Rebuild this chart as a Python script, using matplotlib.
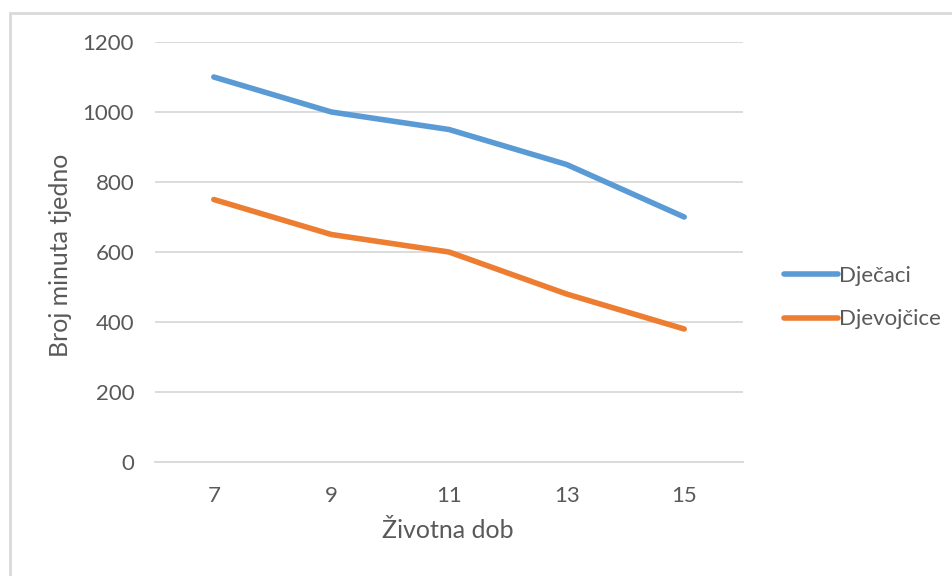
import matplotlib
matplotlib.use("Agg")
import matplotlib.pyplot as plt
from matplotlib.patches import Rectangle

ages = ["7", "9", "11", "13", "15"]
djecaci = [1100, 1000, 950, 850, 700]
djevojcice = [750, 650, 600, 480, 380]
yticks = [0, 200, 400, 600, 800, 1000, 1200]

plt.rcParams['font.family'] = ['Lato', 'DejaVu Sans']
W, H = 953, 576
fig = plt.figure(figsize=(W/100, H/100), dpi=100)

# outer chart border
fig.patches.append(Rectangle((10/W, -0.05), 1.1, 1 - 13/H + 0.05, transform=fig.transFigure,
                             fill=False, edgecolor='#D9D9D9', linewidth=2))

ax = fig.add_axes([155/W, 1 - 462/H, (743-155)/W, (462-42)/H])
x = list(range(len(ages)))
ax.plot(x, djecaci, color='#5B9BD5', linewidth=4, solid_capstyle='round', label='Dječaci')
ax.plot(x, djevojcice, color='#ED7D31', linewidth=4, solid_capstyle='round', label='Djevojčice')
ax.set_xlim(-0.5, len(ages) - 0.5)
ax.set_ylim(0, 1200)
ax.set_yticks(yticks)
ax.set_xticks(x)
ax.set_xticklabels(ages)
ax.grid(axis='y', color='#D9D9D9', linewidth=1.3)
ax.set_axisbelow(True)
for s in ['top', 'right', 'left']:
    ax.spines[s].set_visible(False)
ax.spines['bottom'].set_color('#D9D9D9')
ax.spines['bottom'].set_linewidth(1.3)
ax.tick_params(length=0, labelsize=16, colors='#595959', pad=15)
ax.tick_params(axis='x', pad=17)
fig.text(61/W, 1 - 255/H, 'Broj minuta tjedno', fontsize=18, color='#595959',
         rotation=90, ha='center', va='center')
fig.text(448/W, 1 - 530/H, 'Životna dob', fontsize=18, color='#595959',
         ha='center', va='center')
leg = ax.legend(loc='center left', bbox_to_anchor=(1.035, 0.391), frameon=False, fontsize=16,
                handlelength=2.45, handletextpad=0.05, labelspacing=1.05, labelcolor='#595959')
fig.savefig('out.png', dpi=100)
